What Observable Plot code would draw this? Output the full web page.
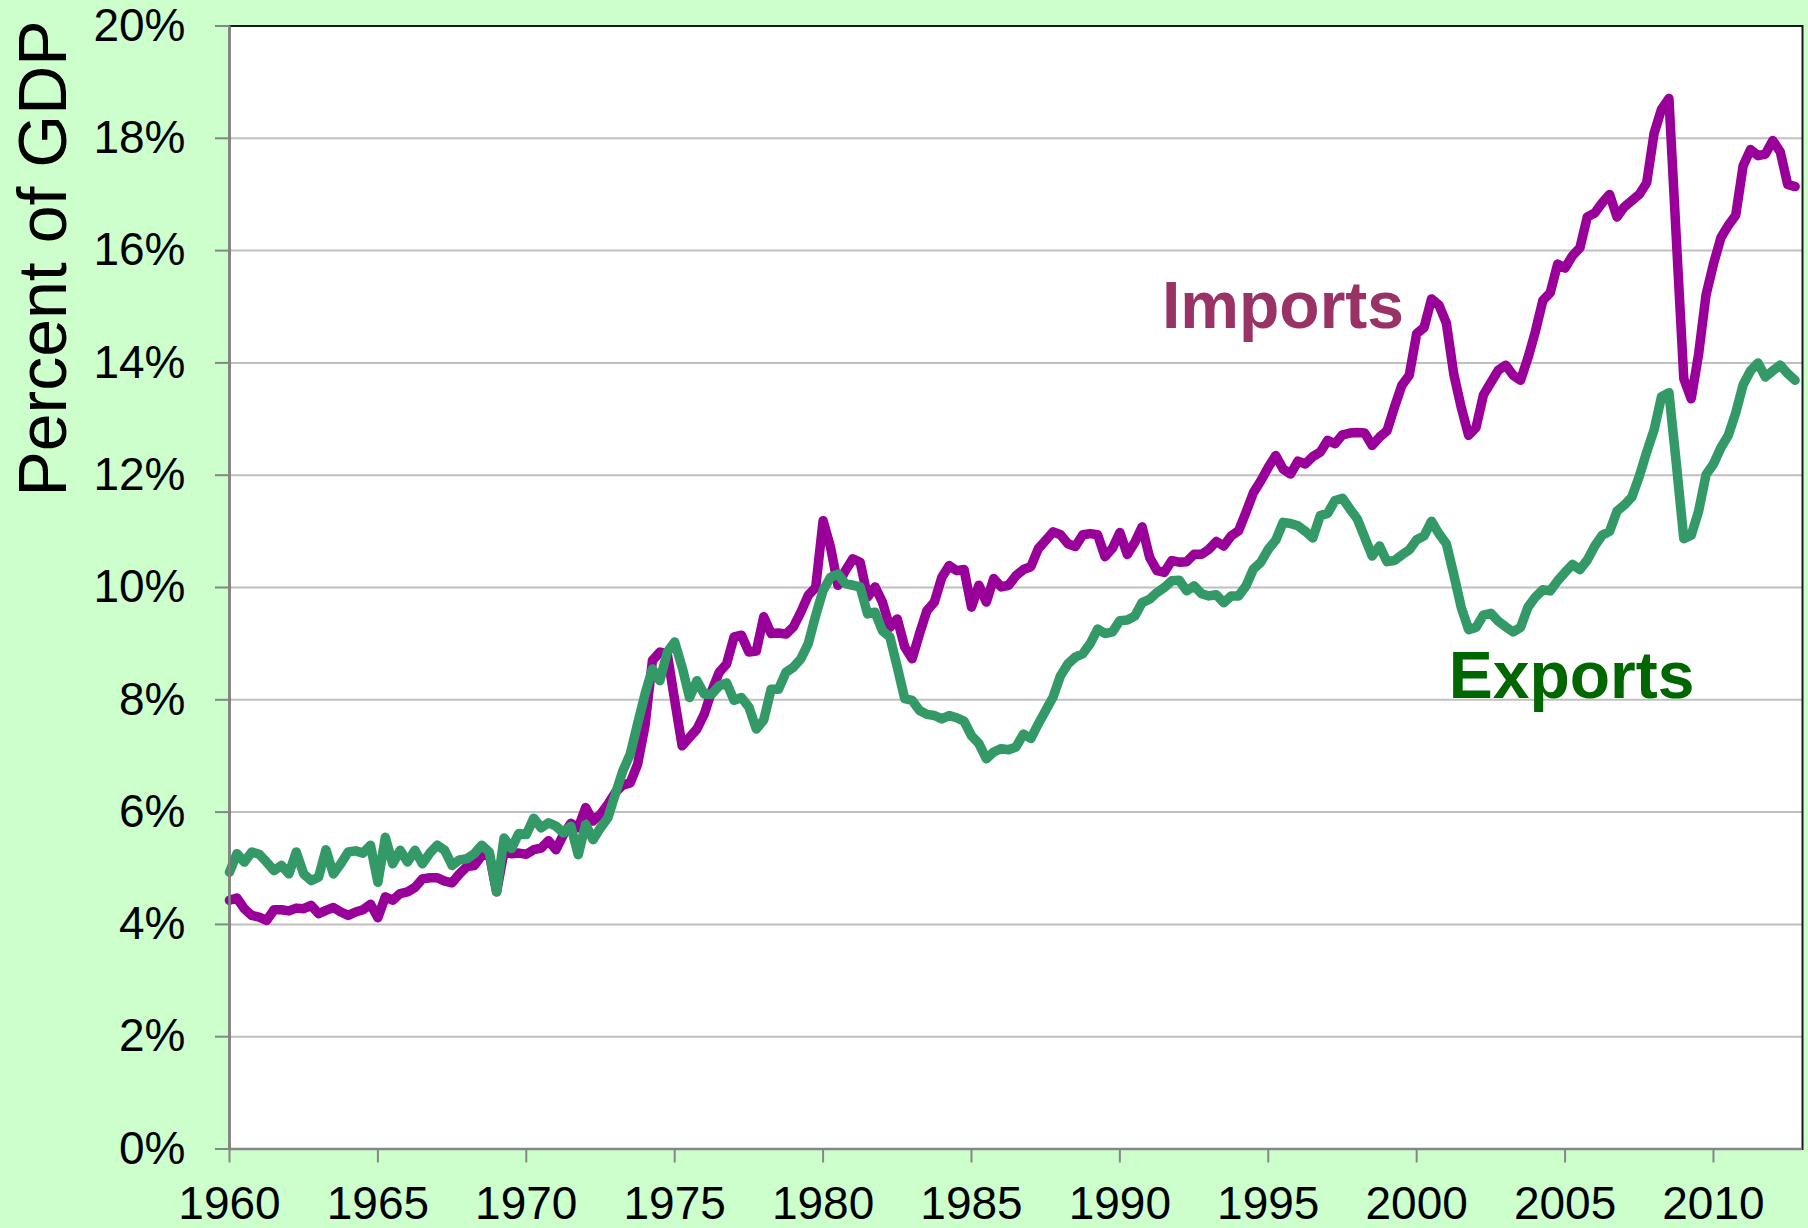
<!DOCTYPE html>
<html><head><meta charset="utf-8">
<script src="https://cdn.jsdelivr.net/npm/d3@7"></script>
<script src="https://cdn.jsdelivr.net/npm/@observablehq/plot@0.6"></script>
<style>
html,body{margin:0;padding:0;background:#ccffcc;}
#chart svg{display:block;}
</style></head><body><div id="chart"></div>
<script>
// Quarterly data, 1960Q1 – 2012Q4, percent of GDP
const startYear = 1960;
const imports = [
  4.43,4.47,4.28,4.16, 4.13,4.07,4.26,4.26, 4.24,4.29,4.28,4.34, 4.19,4.25,4.30,4.22,
  4.16,4.22,4.26,4.36, 4.12,4.49,4.43,4.55, 4.58,4.66,4.81,4.83, 4.83,4.77,4.74,4.90,
  5.03,5.05,5.23,5.26, 4.58,5.30,5.26,5.27, 5.25,5.33,5.36,5.49, 5.33,5.60,5.80,5.72,
  6.08,5.84,5.96,6.14, 6.35,6.48,6.52,6.85, 7.54,8.70,8.85,8.82, 7.99,7.18,7.33,7.48,
  7.75,8.16,8.49,8.64, 9.12,9.15,8.85,8.87, 9.48,9.18,9.19,9.17, 9.30,9.56,9.86,10.00,
  11.19,10.72,10.04,10.30, 10.51,10.45,9.83,10.01, 9.74,9.29,9.44,8.94, 8.73,9.18,9.59,9.74,
  10.18,10.39,10.30,10.32, 9.65,10.04,9.74,10.16, 10.01,10.04,10.21,10.32, 10.37,10.69,10.84,10.99,
  10.94,10.78,10.73,10.94, 10.96,10.94,10.55,10.70, 10.98,10.59,10.80,11.08, 10.54,10.30,10.27,10.48,
  10.45,10.46,10.59,10.59, 10.68,10.82,10.74,10.92, 11.01,11.34,11.69,11.90, 12.14,12.35,12.11,12.02,
  12.25,12.20,12.33,12.41, 12.62,12.56,12.72,12.75, 12.76,12.75,12.53,12.68, 12.79,13.21,13.60,13.78,
  14.52,14.63,15.14,15.03, 14.71,13.80,13.21,12.71, 12.85,13.43,13.65,13.87, 13.96,13.78,13.69,14.09,
  14.56,15.11,15.25,15.76, 15.69,15.91,16.05,16.60, 16.67,16.85,17.00,16.60, 16.78,16.89,17.00,17.21,
  18.09,18.52,18.71,16.20, 13.72,13.36,14.16,15.21, 15.76,16.23,16.45,16.63, 17.51,17.80,17.69,17.72,
  17.96,17.76,17.18,17.14
];
const exportsData = [
  4.93,5.26,5.11,5.29, 5.25,5.11,4.96,5.05, 4.90,5.29,4.90,4.78, 4.84,5.33,4.90,5.08,
  5.29,5.31,5.27,5.41, 4.75,5.55,5.08,5.32, 5.11,5.32,5.08,5.27, 5.41,5.32,5.05,5.15,
  5.17,5.26,5.41,5.29, 4.58,5.54,5.35,5.62, 5.60,5.89,5.72,5.81, 5.75,5.63,5.75,5.24,
  5.78,5.51,5.72,5.90, 6.32,6.73,7.03,7.57, 8.10,8.55,8.34,8.85, 9.03,8.58,8.04,8.34,
  8.10,8.10,8.25,8.30, 7.99,8.04,7.87,7.48, 7.64,8.19,8.19,8.49, 8.58,8.73,9.00,9.50,
  9.95,10.18,10.24,10.07, 10.04,10.01,9.53,9.56, 9.23,9.12,8.58,8.02, 7.99,7.81,7.74,7.72,
  7.66,7.72,7.68,7.62, 7.36,7.22,6.95,7.07, 7.13,7.11,7.16,7.39, 7.31,7.57,7.81,8.05,
  8.43,8.64,8.76,8.82, 9.00,9.26,9.18,9.21, 9.41,9.42,9.49,9.73, 9.79,9.91,10.00,10.12,
  10.13,9.94,10.03,9.89, 9.85,9.87,9.73,9.85, 9.85,10.03,10.33,10.45, 10.68,10.84,11.16,11.14,
  11.10,11.00,10.88,11.28, 11.32,11.55,11.59,11.40, 11.22,10.89,10.56,10.74, 10.46,10.48,10.58,10.67,
  10.85,10.92,11.18,10.96, 10.78,10.23,9.65,9.25, 9.29,9.51,9.54,9.40, 9.30,9.21,9.29,9.65,
  9.83,9.96,9.94,10.12, 10.27,10.41,10.32,10.49, 10.74,10.93,11.00,11.36, 11.47,11.61,11.98,12.41,
  12.81,13.40,13.47,12.20, 10.87,10.93,11.36,12.01, 12.20,12.49,12.71,13.11, 13.61,13.86,14.00,13.75,
  13.86,13.96,13.81,13.69
];
const xTicks = [1960,1965,1970,1975,1980,1985,1990,1995,2000,2005,2010];
const yTicks = [0,2,4,6,8,10,12,14,16,18,20];
const importsLabel = [{name:"Imports", year:1991.42, value:14.63}];
const exportsLabel = [{name:"Exports", year:2001.08, value:8.04}];
const yTitle = ["Percent of GDP"];

const toRows = arr => arr.map((v,i)=>({year: startYear + i/4, value: v}));
const importRows = toRows(imports);
const exportRows = toRows(exportsData);

const FONT = "'Liberation Sans', Arial, Helvetica, sans-serif";

const chart = Plot.plot({
  width: 1808,
  height: 1228,
  marginLeft: 229,
  marginRight: 6,
  marginTop: 25.5,
  marginBottom: 79.5,
  style: {background: "#ccffcc", fontFamily: FONT, fontSize: "46px", color: "black"},
  x: {domain: [1960, 2013]},
  y: {domain: [0, 20]},
  marks: [
    Plot.frame({fill: "white", stroke: "none"}),
    Plot.ruleY(yTicks.filter(d => d > 0 && d < 20), {stroke: "#c0c0c0", strokeWidth: 2}),
    Plot.line(importRows, {x: "year", y: "value", stroke: "#990099", strokeWidth: 9.5, strokeLinejoin: "round", strokeLinecap: "round"}),
    Plot.line(exportRows, {x: "year", y: "value", stroke: "#339966", strokeWidth: 9.5, strokeLinejoin: "round", strokeLinecap: "round"}),
    Plot.frame({stroke: "#1a1a1a", strokeWidth: 2, fill: "none"}),
    Plot.ruleX([1960], {stroke: "#868686", strokeWidth: 2.5}),
    Plot.ruleY([0], {stroke: "#868686", strokeWidth: 2.5}),
    Plot.axisX({ticks: xTicks, tickFormat: d => String(d), tickSize: 14, tickPadding: 23, fontSize: 46, stroke: "#868686", strokeWidth: 2, fill: "black", label: null}),
    Plot.axisY({ticks: yTicks, tickFormat: d => d + "%", tickSize: 14, tickPadding: 30, fontSize: 46, stroke: "#868686", strokeWidth: 2, fill: "black", label: null}),
    Plot.text(importsLabel, {x: "year", y: "value", text: "name", fill: "#993366", fontSize: 66, fontWeight: "bold", textAnchor: "start", lineAnchor: "bottom"}),
    Plot.text(exportsLabel, {x: "year", y: "value", text: "name", fill: "#006600", fontSize: 66, fontWeight: "bold", textAnchor: "start", lineAnchor: "bottom"}),
    Plot.text(yTitle, {frameAnchor: "top-left", rotate: -90, dx: -164, dy: 232.5, fontSize: 68, textAnchor: "middle", lineAnchor: "bottom", fill: "black"})
  ]
});
document.getElementById("chart").appendChild(chart);
</script>
</body></html>
